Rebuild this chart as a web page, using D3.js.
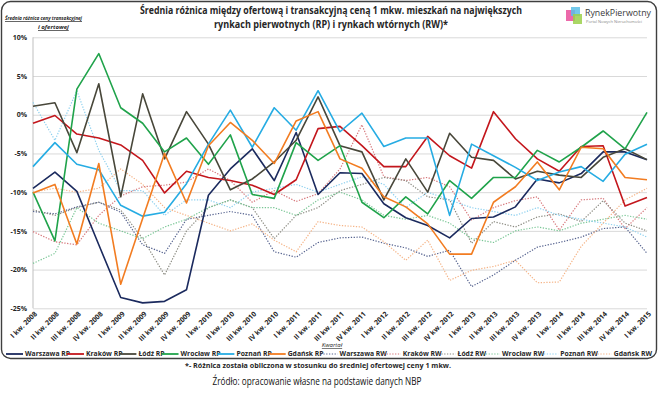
<!DOCTYPE html>
<html>
<head>
<meta charset="utf-8">
<script src="https://cdn.jsdelivr.net/npm/d3@7"></script>
<style>
  body { margin: 0; background: #fff; }
  svg { display: block; }
  text { font-family: "Open Sans", "Noto Sans", sans-serif; fill: #262626; }
</style>
</head>
<body>
<svg id="chart" width="660" height="397"></svg>
<script>
const quarters = [
  "I kw. 2008", "II kw. 2008", "III kw. 2008", "IV kw. 2008",
  "I kw. 2009", "II kw. 2009", "III kw. 2009", "IV kw. 2009",
  "I kw. 2010", "II kw. 2010", "III kw. 2010", "IV kw. 2010",
  "I kw. 2011", "II kw. 2011", "III kw. 2011", "IV kw. 2011",
  "I kw. 2012", "II kw. 2012", "III kw. 2012", "IV kw. 2012",
  "I kw. 2013", "II kw. 2013", "III kw. 2013", "IV kw. 2013",
  "I kw. 2014", "II kw. 2014", "III kw. 2014", "IV kw. 2014",
  "I kw. 2015"
];
const yTicks = [-25, -20, -15, -10, -5, 0, 5, 10];

// rynek pierwotny
const warszawaRP = [-9.5, -7.4, -9.9, -16.8, -23.6, -24.3, -24.1, -22.6, -10.4, -7.0, -4.4, -8.5, -2.3, -10.3, -7.5,
  -7.6, -11.5, -13.3, -14.3, -15.9, -13.4, -13.2, -11.9, -8.3, -8.8, -7.6, -4.8, -4.8, -5.8];
const krakowRP = [-1.1, -0.1, -2.5, -3.0, -3.9, -5.9, -10.1, -7.3, -8.1, -8.5, -9.1, -10.3, -8.4, -1.8, -1.5,
  -4.0, -6.7, -6.7, -2.8, -5.3, -6.9, 0.4, -3.1, -5.7, -7.3, -4.1, -4.0, -11.8, -10.7];
const lodzRP = [1.1, 1.55, -4.9, 4.0, -10.6, 2.7, -5.7, 0.4, -3.8, -9.7, -8.3, -6.1, -3.3, 2.3, -4.0,
  -4.8, -11.0, -5.7, -10.0, -2.4, -5.5, -5.9, -8.3, -7.3, -7.8, -8.1, -5.5, -4.4, -5.8];
const wroclawRP = [-10.0, -16.3, 3.3, 7.9, 0.9, -1.1, -4.8, -3.0, -6.4, -2.6, -10.3, -10.8, -3.6, -5.9, -4.0,
  -11.3, -13.3, -10.6, -12.8, -8.5, -10.8, -8.1, -8.1, -4.6, -6.1, -4.2, -2.1, -4.4, 0.3];
const poznanRP = [-6.7, -3.6, -6.4, -7.1, -11.7, -13.1, -12.6, -8.9, -3.8, 0.6, -4.2, 0.9, -2.0, 3.1, -2.2,
  0.2, -4.1, -3.0, -3.0, -13.0, -3.8, -5.3, -6.8, -8.5, -7.4, -6.7, -8.6, -5.1, -3.8];
const gdanskRP = [-10.1, -9.0, -16.7, -6.3, -21.9, -13.4, -5.0, -11.4, -4.0, -1.0, -3.3, -6.3, -0.8, 0.4, -5.7,
  -6.9, -10.6, -11.9, -14.1, -18.0, -18.0, -11.3, -9.3, -6.1, -9.7, -4.2, -4.4, -8.1, -8.4];

// rynek wtórny
const warszawaRW = [-12.5, -12.8, -11.9, -11.3, -12.6, -16.8, -17.9, -13.5, -13.0, -12.5, -13.0, -17.7, -18.4, -16.5, -15.9,
  -15.8, -16.6, -17.2, -18.3, -17.5, -22.2, -20.7, -18.8, -17.1, -16.5, -15.8, -14.7, -14.5, -17.9];
const krakowRW = [-15.1, -16.4, -16.8, -13.0, -10.5, -9.3, -9.1, -8.7, -7.0, -8.5, -11.3, -9.8, -11.2, -10.2, -7.0,
  -1.3, -8.0, -8.5, -8.1, -9.3, -13.6, -12.0, -11.1, -10.6, -14.9, -11.0, -10.8, -14.7, -12.0];
const lodzRW = [-12.3, -13.0, -12.0, -11.3, -12.3, -16.0, -20.7, -15.0, -12.0, -11.0, -12.0, -16.0, -13.0, -12.0, -9.8,
  -9.0, -8.1, -8.5, -10.6, -11.0, -16.6, -13.8, -14.5, -13.2, -12.8, -13.8, -11.1, -14.0, -15.0];
const wroclawRW = [-19.2, -17.9, -12.0, -14.0, -15.0, -16.0, -14.5, -13.5, -12.0, -11.0, -12.0, -12.0, -13.0, -11.0, -10.0,
  -11.0, -13.0, -13.5, -13.0, -14.0, -16.0, -16.5, -15.0, -14.5, -15.0, -14.0, -13.5, -13.0, -13.5];
const poznanRW = [1.6, -3.3, 3.1, -4.6, -9.8, -9.8, -13.0, -11.0, -11.0, -12.0, -10.0, -9.5, -9.0, -10.0, -9.0,
  -8.0, -9.0, -12.0, -10.0, -11.0, -12.0, -12.5, -13.0, -12.0, -13.0, -13.5, -14.0, -14.5, -15.8];
const gdanskRW = [-10.0, -9.5, -10.0, -9.5, -7.0, -9.0, -12.0, -13.0, -14.0, -15.0, -14.1, -16.2, -17.7, -13.8, -14.3,
  -14.5, -16.4, -18.8, -16.2, -21.4, -20.1, -19.6, -18.8, -21.7, -21.6, -17.0, -14.0, -11.0, -9.5];

const series = [
  { name: "Warszawa RP", values: warszawaRP, color: "#1b2a5e", dotted: false },
  { name: "Kraków RP", values: krakowRP, color: "#c3161c", dotted: false },
  { name: "Łódź RP", values: lodzRP, color: "#48473a", dotted: false },
  { name: "Wrocław RP", values: wroclawRP, color: "#20a34b", dotted: false },
  { name: "Poznań RP", values: poznanRP, color: "#26ace3", dotted: false },
  { name: "Gdańsk RP", values: gdanskRP, color: "#f27c21", dotted: false },
  { name: "Warszawa RW", values: warszawaRW, color: "#56638f", dotted: true },
  { name: "Kraków RW", values: krakowRW, color: "#d6767a", dotted: true },
  { name: "Łódź RW", values: lodzRW, color: "#8a8a80", dotted: true },
  { name: "Wrocław RW", values: wroclawRW, color: "#79c695", dotted: true },
  { name: "Poznań RW", values: poznanRW, color: "#8dd0ef", dotted: true },
  { name: "Gdańsk RW", values: gdanskRW, color: "#f5b487", dotted: true }
];

const svg = d3.select("#chart");
const plotLeft = 33, plotRight = 647, plotTop = 37.3, plotBottom = 308.3;

const x = d3.scalePoint().domain(quarters).range([plotLeft, plotRight]);
const y = d3.scaleLinear().domain([-25, 10]).range([plotBottom, plotTop]);

// ramka
svg.append("rect")
  .attr("x", 1.5).attr("y", 1.5)
  .attr("width", 655).attr("height", 357)
  .attr("rx", 9)
  .attr("fill", "#fff")
  .attr("stroke", "#3f3f3f")
  .attr("stroke-width", 1.4);

// tytul
const title = svg.append("g").style("font-weight", "bold").style("font-size", "10px");
title.append("text").attr("x", 331).attr("y", 14).attr("text-anchor", "middle")
  .attr("textLength", 382).attr("lengthAdjust", "spacingAndGlyphs")
  .text("Średnia różnica między ofertową i transakcyjną ceną 1 mkw. mieszkań na największych");
title.append("text").attr("x", 331).attr("y", 28).attr("text-anchor", "middle")
  .attr("textLength", 234).attr("lengthAdjust", "spacingAndGlyphs")
  .text("rynkach pierwotnych (RP) i rynkach wtórnych (RW)*");

// logo
const logo = svg.append("g").attr("transform", "translate(566,7)");
logo.append("rect").attr("x", 0).attr("y", 3).attr("width", 9).attr("height", 11).attr("fill", "#e94f9b").attr("opacity", 0.85);
logo.append("rect").attr("x", 5).attr("y", 0).attr("width", 9).attr("height", 9).attr("fill", "#5bc0e8").attr("opacity", 0.85);
logo.append("rect").attr("x", 7).attr("y", 7).attr("width", 9).attr("height", 10).attr("fill", "#9bd04a").attr("opacity", 0.85);
logo.append("text").attr("x", 19).attr("y", 9).style("font-size", "9px").style("fill", "#3a3a3a")
  .attr("textLength", 66).attr("lengthAdjust", "spacingAndGlyphs").text("RynekPierwotny");
logo.append("text").attr("x", 20).attr("y", 16).style("font-size", "3.6px").style("fill", "#888")
  .attr("textLength", 56).attr("lengthAdjust", "spacingAndGlyphs").text("Portal Nowych Nieruchomości");

// opis osi Y
const yTitle = svg.append("g").style("font-size", "6px").style("font-style", "italic")
  .style("font-weight", "bold").style("text-decoration", "underline");
yTitle.append("text").attr("x", 5).attr("y", 20)
  .attr("textLength", 77).attr("lengthAdjust", "spacingAndGlyphs")
  .text("Średnia różnica ceny transakcyjnej");
yTitle.append("text").attr("x", 38).attr("y", 29).text("i ofertowej");

// siatka i os Y
const yAxis = svg.append("g")
  .attr("transform", "translate(" + plotLeft + ",0)")
  .call(d3.axisLeft(y).tickValues(yTicks).tickSize(-(plotRight - plotLeft)).tickPadding(6)
    .tickFormat(d => d + "%"));
yAxis.select(".domain").remove();
yAxis.selectAll(".tick line").attr("stroke", "#d9d9d9").attr("stroke-width", 1);
yAxis.selectAll(".tick text").style("font-size", "7px").style("font-weight", "bold")
  .style("font-family", "\"Open Sans\", sans-serif").attr("fill", "#262626");

svg.append("line")
  .attr("x1", plotLeft).attr("x2", plotLeft).attr("y1", plotTop).attr("y2", plotBottom)
  .attr("stroke", "#bfbfbf").attr("stroke-width", 1);

// os X
const xAxis = svg.append("g")
  .attr("transform", "translate(0," + plotBottom + ")")
  .call(d3.axisBottom(x).tickSize(0));
xAxis.select(".domain").remove();
xAxis.selectAll(".tick text")
  .attr("x", 0).attr("y", 0).attr("dy", 0)
  .attr("transform", "translate(4,6) rotate(-45)")
  .style("text-anchor", "end")
  .style("font-size", "7px").style("font-weight", "bold")
  .style("font-family", "\"Open Sans\", sans-serif").attr("fill", "#262626");

svg.append("text").attr("x", 332).attr("y", 347).attr("text-anchor", "middle")
  .style("font-size", "6px").style("font-style", "italic").style("text-decoration", "underline")
  .text("Kwartał");

// linie
const line = d3.line()
  .x((d, i) => x(quarters[i]))
  .y(d => y(d));

const drawOrder = series.filter(s => s.dotted).concat(series.filter(s => !s.dotted));
svg.append("g").selectAll("path")
  .data(drawOrder)
  .join("path")
  .attr("fill", "none")
  .attr("stroke", d => d.color)
  .attr("stroke-width", d => d.dotted ? 1.2 : 1.6)
  .attr("stroke-dasharray", d => d.dotted ? "1.3,1.5" : null)
  .attr("stroke-linejoin", "round")
  .attr("d", d => line(d.values));

// legenda
const legend = svg.append("g").style("font-size", "6.8px").style("font-weight", "bold");
const items = legend.selectAll("g").data(series).join("g");
items.append("line")
  .attr("x1", 0).attr("x2", 17).attr("y1", 0).attr("y2", 0)
  .attr("stroke", d => d.color)
  .attr("stroke-width", d => d.dotted ? 1.2 : 1.8)
  .attr("stroke-dasharray", d => d.dotted ? "1.3,1.5" : null);
items.append("text").attr("x", 19).attr("y", 2.4).text(d => d.name);

const widths = [];
items.each(function () { widths.push(19 + d3.select(this).select("text").node().getComputedTextLength()); });
const total = d3.sum(widths);
const gap = (646 - total) / (series.length - 1);
let cx = 6;
items.attr("transform", (d, i) => {
  const t = "translate(" + cx + ",354)";
  cx += widths[i] + gap;
  return t;
});

// przypisy
svg.append("text").attr("x", 318).attr("y", 368).attr("text-anchor", "middle")
  .style("font-size", "6.5px").style("font-weight", "bold")
  .attr("textLength", 266).attr("lengthAdjust", "spacingAndGlyphs")
  .text("*- Różnica została obliczona w stosunku do średniej ofertowej ceny 1 mkw.");
svg.append("text").attr("x", 317).attr("y", 385).attr("text-anchor", "middle")
  .style("font-size", "10px").style("fill", "#111")
  .attr("textLength", 209).attr("lengthAdjust", "spacingAndGlyphs")
  .text("Źródło: opracowanie własne na podstawie danych NBP");
</script>
</body>
</html>
